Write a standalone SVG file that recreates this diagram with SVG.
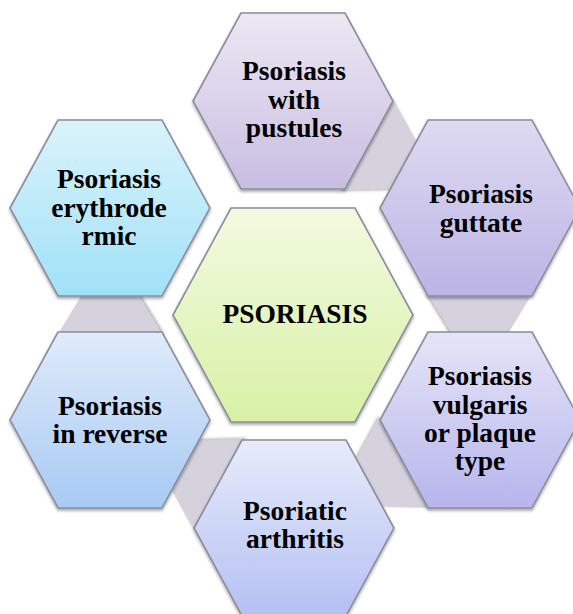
<svg xmlns="http://www.w3.org/2000/svg" width="573" height="614" viewBox="0 0 573 614">
<style>
  .hex { stroke: #8c8c9c; stroke-width: 1.6; filter: url(#sh); }
  .con { fill: #d5d1dd; filter: url(#sh); }
  text { font-family: "Times New Roman", "Liberation Serif", Times, "DejaVu Serif", serif; font-weight: bold; font-size: 27.5px; fill: #000; text-anchor: middle; }
</style>
<defs>
  <filter id="sh" x="-10%" y="-10%" width="120%" height="125%">
    <feDropShadow dx="0" dy="2" stdDeviation="1.6" flood-color="#000" flood-opacity="0.35"/>
  </filter>
  <linearGradient id="gTop" x1="0" y1="0" x2="0" y2="1"><stop offset="0" stop-color="#ece8f3"/><stop offset="1" stop-color="#c9bde2"/></linearGradient>
  <linearGradient id="gGut" x1="0" y1="0" x2="0" y2="1"><stop offset="0" stop-color="#dedaf1"/><stop offset="1" stop-color="#bcb4e5"/></linearGradient>
  <linearGradient id="gVul" x1="0" y1="0" x2="0" y2="1"><stop offset="0" stop-color="#e5e5f8"/><stop offset="1" stop-color="#b7b5ec"/></linearGradient>
  <linearGradient id="gArt" x1="0" y1="0" x2="0" y2="1"><stop offset="0" stop-color="#e7ebfb"/><stop offset="1" stop-color="#b4c0f2"/></linearGradient>
  <linearGradient id="gRev" x1="0" y1="0" x2="0" y2="1"><stop offset="0" stop-color="#dfebfa"/><stop offset="1" stop-color="#a8caf4"/></linearGradient>
  <linearGradient id="gEry" x1="0" y1="0" x2="0" y2="1"><stop offset="0" stop-color="#daf3fb"/><stop offset="1" stop-color="#a0e1f7"/></linearGradient>
  <linearGradient id="gCen" x1="0" y1="0" x2="0" y2="1"><stop offset="0" stop-color="#f2fae0"/><stop offset="1" stop-color="#d8f1a6"/></linearGradient>
  <polygon id="trap" points="86,-52 86,52 142,18 142,-18"/>
</defs>

<g id="connectors">
  <use href="#trap" class="con" transform="translate(293,101) rotate(30)"/>
  <use href="#trap" class="con" transform="translate(480,208) rotate(90)"/>
  <use href="#trap" class="con" transform="translate(480,420) rotate(150)"/>
  <use href="#trap" class="con" transform="translate(294,528) rotate(210)"/>
  <use href="#trap" class="con" transform="translate(110,420) rotate(270)"/>
</g>

<g id="node-pustules">
  <polygon class="hex" fill="url(#gTop)" points="193,101 241,13 345,13 393,101 345,189 241,189"/>
  <text x="294" y="80">Psoriasis</text>
  <text x="294" y="108.5">with</text>
  <text x="294" y="137">pustules</text>
</g>

<g id="node-guttate">
  <polygon class="hex" fill="url(#gGut)" points="380,208 428,120 532,120 580,208 532,296 428,296"/>
  <text x="481" y="203">Psoriasis</text>
  <text x="481" y="232">guttate</text>
</g>

<g id="node-vulgaris">
  <polygon class="hex" fill="url(#gVul)" points="380,420 428,332 532,332 580,420 532,508 428,508"/>
  <text x="480" y="385">Psoriasis</text>
  <text x="480" y="413.5">vulgaris</text>
  <text x="480" y="442">or plaque</text>
  <text x="480" y="470">type</text>
</g>

<g id="node-arthritis">
  <polygon class="hex" fill="url(#gArt)" points="194,528 242,440 346,440 394,528 346,616 242,616"/>
  <text x="295" y="520">Psoriatic</text>
  <text x="295" y="548">arthritis</text>
</g>

<g id="node-reverse">
  <polygon class="hex" fill="url(#gRev)" points="10,420 58,332 162,332 210,420 162,508 58,508"/>
  <text x="110" y="415">Psoriasis</text>
  <text x="110" y="443">in reverse</text>
</g>

<g id="node-erythrodermic">
  <polygon class="hex" fill="url(#gEry)" points="10,208 58,120 162,120 210,208 162,296 58,296"/>
  <text x="109" y="188">Psoriasis</text>
  <text x="109" y="217">erythrode</text>
  <text x="109" y="245">rmic</text>
</g>

<g id="node-center">
  <polygon class="hex" fill="url(#gCen)" points="173,315 231,208 355,208 413,315 355,422 231,422"/>
  <text x="295" y="323">PSORIASIS</text>
</g>
</svg>
